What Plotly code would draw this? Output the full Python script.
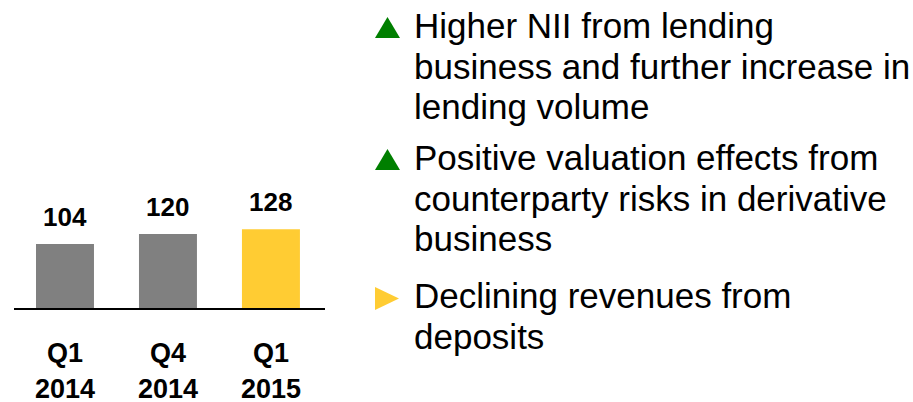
import plotly.graph_objects as go

categories = ["Q1<br>2014", "Q4<br>2014", "Q1<br>2015"]
values = [104, 120, 128]
bar_colors = ["#808080", "#808080", "#FFCC33"]
unit_label = "€m"
bullet_kinds = ["up", "up", "right"]
bullet_colors = ["#007F00", "#007F00", "#FFCC33"]
bullet_lines = [
    ["Higher NII from lending", "business and further increase in", "lending volume"],
    ["Positive valuation effects from", "counterparty risks in derivative", "business"],
    ["Declining revenues from", "deposits"],
]

W, H = 913, 402
FONT = "Liberation Sans, Arial, sans-serif"
TXT_SIZE = 35


def px(x):
    return x / W


def py(y):
    return 1 - y / H


fig = go.Figure()
fig.add_trace(go.Bar(
    x=categories, y=values, marker_color=bar_colors, marker_line_width=0,
    width=0.563, hoverinfo="skip",
))

annotations = []
for c, v in zip(categories, values):
    annotations.append(dict(
        x=c, y=v, xref="x", yref="y", text=str(v), showarrow=False,
        yanchor="bottom", yshift=10,
        font=dict(family=FONT, size=26, color="#000000", weight="bold"),
    ))

annotations.append(dict(
    x=px(12), y=py(7), xref="paper", yref="paper", text=unit_label,
    showarrow=False, xanchor="left", yanchor="bottom",
    font=dict(family=FONT, size=24, color="#000000", weight="bold"),
))

shapes = []
para_baselines = [38, 170, 308]
line_step = 40.5
for kind, col, lines, b0 in zip(bullet_kinds, bullet_colors, bullet_lines, para_baselines):
    for i, line in enumerate(lines):
        base = b0 + i * line_step
        annotations.append(dict(
            x=px(412), y=py(base - 0.3465 * TXT_SIZE), xref="paper", yref="paper",
            text=line, showarrow=False, xanchor="left", yanchor="middle",
            font=dict(family=FONT, size=TXT_SIZE, color="#000000"),
        ))
    if kind == "up":
        pts = [(375, b0), (400, b0), (387.5, b0 - 21)]
    else:
        pts = [(375, b0 - 21), (375, b0 + 2), (399, b0 - 9.5)]
    path = "M " + " L ".join(f"{px(x):.5f},{py(y):.5f}" for x, y in pts) + " Z"
    shapes.append(dict(type="path", xref="paper", yref="paper", path=path,
                       fillcolor=col, line=dict(width=0)))

fig.update_layout(
    width=W, height=H,
    margin=dict(l=0, r=0, t=0, b=0, autoexpand=False),
    paper_bgcolor="white", plot_bgcolor="white",
    showlegend=False,
    annotations=annotations,
    shapes=shapes,
    xaxis=dict(
        domain=[px(13.5), px(325)], range=[-0.5, 2.525],
        showline=True, linecolor="#000000", linewidth=2,
        showgrid=False, zeroline=False, ticks="",
        ticklabelstandoff=20, automargin=False,
        tickfont=dict(family=FONT, size=27, color="#000000", weight="bold"),
        fixedrange=True,
    ),
    yaxis=dict(
        domain=[94 / H, 1], range=[0, 500], automargin=False,
        visible=False, showgrid=False, zeroline=False, fixedrange=True,
    ),
)

fig.write_html(
    "out.html",
    config={"displayModeBar": False},
    post_script="document.body.style.margin='0';document.body.style.overflow='hidden';",
)
